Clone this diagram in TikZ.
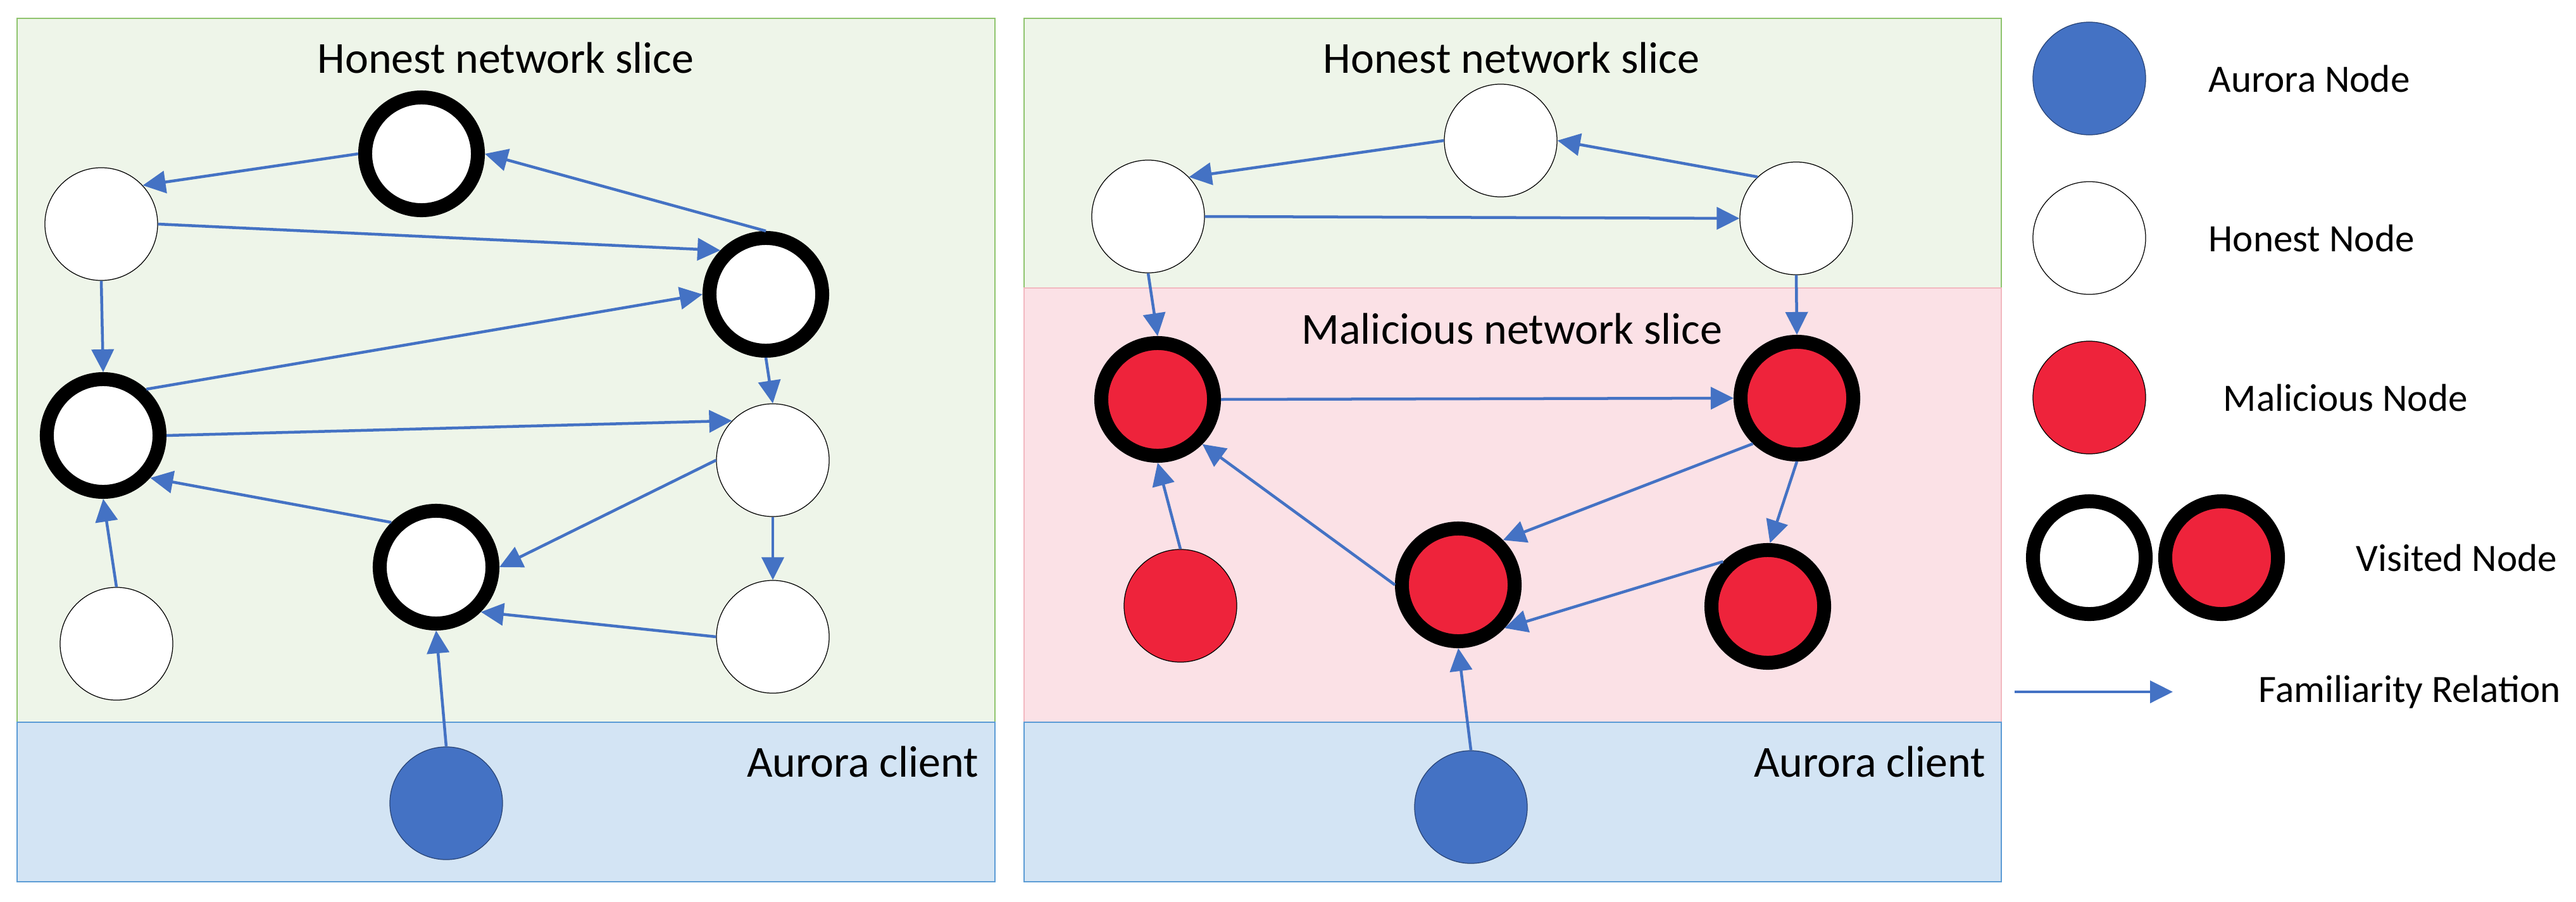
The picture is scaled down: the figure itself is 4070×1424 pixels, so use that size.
\documentclass[tikz,border=0pt]{standalone}
\usepackage{fontspec}
\setmainfont{Carlito}
\usetikzlibrary{arrows.meta}
\definecolor{slicegreen}{HTML}{EEF5E9}
\definecolor{slicegreenline}{HTML}{8FC46E}
\definecolor{slicepink}{HTML}{FBE1E6}
\definecolor{slicepinkline}{HTML}{F2B8C0}
\definecolor{sliceblue}{HTML}{D3E4F4}
\definecolor{sliceblueline}{HTML}{5B9BD5}
\definecolor{aurblue}{HTML}{4472C4}
\definecolor{mred}{HTML}{EE233B}
\tikzset{
  hnode/.style={circle, minimum size=1.78cm, inner sep=0pt, draw=black, line width=0.35pt, fill=white},
  mnode/.style={hnode, fill=mred},
  anode/.style={hnode, fill=aurblue, draw=aurblue!60!black},
  visited/.style={line width=0.22cm},
  rel/.style={draw=aurblue, line width=0.045cm, -{Triangle[length=0.36cm,width=0.35cm]}},
  titletext/.style={inner sep=0pt, font=\fontsize{19.9}{24}\selectfont},
  legtext/.style={inner sep=0pt, anchor=west, font=\fontsize{17.4}{21}\selectfont},
}
\begin{document}
\begin{tikzpicture}[x=0.01cm, y=-0.01cm]
\useasboundingbox (0,0) rectangle (4070,1424);
% ---------- left panel backgrounds
\filldraw[fill=slicegreen, draw=slicegreenline, line width=0.6pt] (27,29) rectangle (1572,1141);
\filldraw[fill=sliceblue, draw=sliceblueline, line width=0.6pt] (27,1141) rectangle (1572,1393);
% ---------- right panel backgrounds
\filldraw[fill=slicegreen, draw=slicegreenline, line width=0.6pt] (1618,29) rectangle (3162,455);
\filldraw[fill=slicepink, draw=slicepinkline, line width=0.6pt] (1618,455) rectangle (3162,1141);
\filldraw[fill=sliceblue, draw=sliceblueline, line width=0.6pt] (1618,1141) rectangle (3162,1393);
% ---------- labels
\node[titletext] (t1) at (799,91) {Honest network slice};
\node[titletext] (t2) at (2388,91) {Honest network slice};
\node[titletext] (t3) at (2389,519) {Malicious network slice};
\node[titletext] (t4) at (1363,1203) {Aurora client};
\node[titletext] (t5) at (2954,1203) {Aurora client};
% ---------- left nodes
\node[hnode, visited] (lA) at (666,243) {};
\node[hnode] (lB) at (160,354) {};
\node[hnode, visited] (lC) at (1210,465) {};
\node[hnode, visited] (lD) at (163,688) {};
\node[hnode] (lE) at (1221,727) {};
\node[hnode, visited] (lF) at (689,896) {};
\node[hnode] (lG) at (184,1017) {};
\node[hnode] (lH) at (1221,1006) {};
\node[anode] (lAu) at (705,1269) {};
% ---------- left edges
\draw[rel] (lA.180) -- (lB.43);
\draw[rel] (lC.90) -- (lA.0);
\draw[rel] (lB.0) -- (lC.136);
\draw[rel] (lB.270) -- (lD.90);
\draw[rel] (lD.47) -- (lC.180);
\draw[rel] (lD.0) -- (lE.136);
\draw[rel] (lC.270) -- (lE.90);
\draw[rel] (lF.135) -- (lD.318);
\draw[rel] (lE.180) -- (lF.0);
\draw[rel] (lG.90) -- (lD.270);
\draw[rel] (lE.270) -- (lH.90);
\draw[rel] (lH.180) -- (lF.315);
\draw[rel] (lAu.90) -- (lF.270);
% ---------- right nodes
\node[hnode] (rHl) at (1814,342) {};
\node[hnode] (rHt) at (2371,222) {};
\node[hnode] (rHr) at (2838,345) {};
\node[mnode, visited] (rM1) at (1829,631) {};
\node[mnode, visited] (rM2) at (2839,629) {};
\node[mnode] (rM3) at (1865,957) {};
\node[mnode, visited] (rM4) at (2304,924) {};
\node[mnode, visited] (rM5) at (2793,958) {};
\node[anode] (rAu) at (2324,1275) {};
% ---------- right edges
\draw[rel] (rHt.180) -- (rHl.44);
\draw[rel] (rHr.133) -- (rHt.0);
\draw[rel] (rHl.0) -- (rHr.180);
\draw[rel] (rHl.270) -- (rM1.90);
\draw[rel] (rHr.270) -- (rM2.90);
\draw[rel] (rM1.0) -- (rM2.180);
\draw[rel] (rM3.90) -- (rM1.270);
\draw[rel] (rM4.180) -- (rM1.315);
\draw[rel] (rM2.226) -- (rM4.45);
\draw[rel] (rM2.270) -- (rM5.88);
\draw[rel] (rM5.135) -- (rM4.317);
\draw[rel] (rAu.90) -- (rM4.270);
% ---------- legend
\node[anode] (gA) at (3301,124) {};
\node[legtext] (gAt) at (3489,124) {Aurora Node};
\node[hnode] (gH) at (3301,376) {};
\node[legtext] (gHt) at (3489,376) {Honest Node};
\node[mnode] (gM) at (3301,628) {};
\node[legtext] (gMt) at (3512,628) {Malicious Node};
\node[hnode, visited] (gV1) at (3301,881) {};
\node[mnode, visited] (gV2) at (3510,881) {};
\node[legtext] (gVt) at (3722,881) {Visited Node};
\coordinate (ga1) at (3183,1093);
\coordinate (ga2) at (3433,1093);
\draw[rel] (ga1) -- (ga2);
\node[legtext] (gFt) at (3568,1093) {Familiarity Relation};
\end{tikzpicture}
\end{document}
